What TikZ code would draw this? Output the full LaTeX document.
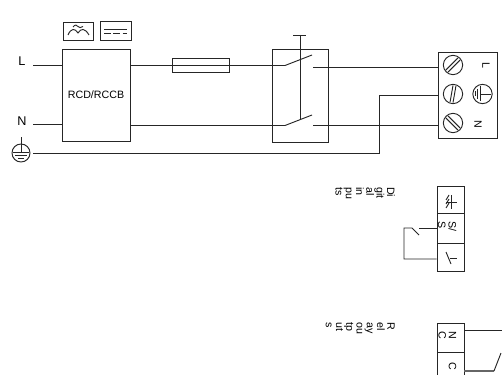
\documentclass[tikz,border=0pt]{standalone}
\usepackage{fontspec}
\setmainfont{Liberation Sans}
\newcommand{\drawScrew}[4]{
    \node[screwhead] (#1) at (#2,#3) {};
    \draw[wire,rotate around={#4:(#2,#3)}] (#2-8.5,#3+1.5) -- (#2+8.5,#3+1.5) (#2-8.5,#3-1.5) -- (#2+8.5,#3-1.5)
}
\tikzset{
    wire/.style={line width=0.7pt,draw=black!85},
    box/.style={wire,rectangle,inner sep=0pt,minimum width=0.75*#1},
    boxheight/.style={minimum height=0.75*#1},
    screwhead/.style={wire,circle,inner sep=0pt,minimum size=14.5},
    sidetext/.style={rotate=-90,anchor=north west,align=left,inner sep=0pt,font=\fontsize{8}{7.7}\selectfont}
}

\begin{document}
\begin{tikzpicture}[x=0.75pt,y=-0.75pt]
            \useasboundingbox (0,0) rectangle (502,374);
            \clip (0,0) rectangle (502,374);

            % supply side
            \node[font=\fontsize{9.5}{11}\selectfont,inner sep=0pt] (labelL) at (22,61) {L};
            \node[font=\fontsize{9.5}{11}\selectfont,inner sep=0pt] (labelN) at (22,121) {N};
            \node[box=68,boxheight=92,font=\fontsize{8}{10}\selectfont] (rcd) at (96,95) {RCD/RCCB};
            \node[box=30,boxheight=18] (iconac) at (78,31) {};
            \node[box=31,boxheight=19] (icondc) at (115.5,30.5) {};
            \draw[wire] (68,35) .. controls (71,28) and (75,28) .. (78,33) .. controls (81,28) and (85,28) .. (89,35);
            \draw[wire] (73,27) .. controls (75,24.5) and (77,24.5) .. (78,26.5) .. controls (79,28) and (81,28) .. (83,26.5);
            \draw[wire] (104,29.3) -- (127,29.3);
            \draw[wire,dash pattern=on 5pt off 2pt] (104,33) -- (127,33);

            \coordinate (startL) at (33,65.5);
            \coordinate (startN) at (33,124.5);
            \coordinate (startPE) at (33,153);
            \draw[wire] (startL) -- (startL-|rcd.west);
            \draw[wire] (startN) -- (startN-|rcd.west);

            % earth symbol
            \node[wire,circle,inner sep=0pt,minimum size=13.5] (earth) at (21,153) {};
            \draw[wire] (21,137) -- (21,152.5);
            \draw[wire] (13,152.5) -- (29,152.5);
            \draw[wire] (15,155.5) -- (27,155.5);
            \draw[wire] (18,158.5) -- (24,158.5);

            % fuse and switch
            \node[box=57,boxheight=14.5] (fuse) at (200.5,65.5) {};
            \node[box=56,boxheight=93] (switch) at (300,95.5) {};
            \coordinate (bladeL) at (285,65.5);
            \coordinate (bladeN) at (285,125.5);
            \coordinate (contactL) at (313,67);
            \coordinate (contactN) at (313,125.5);
            \coordinate (bendPE) at (379,153);
            \coordinate (risePE) at (379,95);
            \draw[wire] (bladeL-|rcd.east) -- (fuse.west) -- (fuse.east) -- (bladeL) -- (312,55);
            \draw[wire] (bladeN-|rcd.east) -- (bladeN) -- (312,115);
            \draw[wire] (300,35) -- (300,119);
            \draw[wire] (293,35) -- (306,35);

            % terminal block
            \node[box=59,boxheight=86] (terminal) at (467.5,95) {};
            \draw[wire] (contactL) -- (contactL-|terminal.west);
            \draw[wire] (contactN) -- (contactN-|terminal.west);
            \draw[wire] (startPE) -- (bendPE) -- (risePE) -- (risePE-|terminal.west);

            \drawScrew{screwL}{453}{65}{45};
            \drawScrew{screwPE}{453}{94}{80};
            \drawScrew{screwN}{453}{123}{-45};
            \node[screwhead] (earthterm) at (482.5,94) {};
            \draw[wire] (491,94) -- (480,94);
            \draw[wire] (480,86.5) -- (480,101.5);
            \draw[wire] (477.5,89) -- (477.5,99);
            \draw[wire] (475,91.5) -- (475,96.5);
            \node[rotate=-90,inner sep=0pt,font=\fontsize{8}{10}\selectfont] (termL) at (486,65) {L};
            \node[rotate=-90,inner sep=0pt,font=\fontsize{8}{10}\selectfont] (termN) at (478,124) {N};

            % digital inputs
            \node[sidetext] (digitaltext) at (395,187) {Di\\git\\al\\in\\pu\\ts};
            \node[box=27,boxheight=27] (digitaltop) at (450.5,199.5) {};
            \node[box=27,boxheight=30] (digitalmid) at (450.5,228) {};
            \node[box=27,boxheight=28] (digitallow) at (450.5,257) {};
            \node[sidetext] (digitalss) at (456.5,221) {S/\\S};
            \draw[wire] (446,202) -- (457,202);
            \draw[wire] (451,195) -- (451,209);
            \draw[wire] (446,200) -- (449,195) (446,204) -- (449,199) (446,208) -- (449,203);
            \draw[wire] (446,252) -- (451,264);
            \draw[wire] (450,258) -- (457,258);
            \coordinate (contactD) at (419,228);
            \coordinate (cornerD) at (404,259);
            \draw[wire] (contactD-|digitalmid.west) -- (contactD);
            \draw[wire] (419,235) -- (412,228) -- (404,228) -- (cornerD) -- (cornerD-|digitallow.west);

            % relay outputs
            \node[sidetext] (relaytext) at (395,322) {R\\el\\ay\\ou\\tp\\ut\\s};
            \node[box=27,boxheight=29] (relaytop) at (450.5,337.5) {};
            \node[box=27,boxheight=30] (relaylow) at (450.5,367) {};
            \node[sidetext] (relaync) at (456.5,331) {N\\C};
            \node[sidetext] (relayc) at (456.5,362) {C};
            \coordinate (endNC) at (502,330);
            \coordinate (bladeC) at (494,371);
            \draw[wire] (endNC-|relaytop.east) -- (endNC);
            \draw[line width=1.2pt,draw=black!60] (bladeC-|relaylow.east) -- (bladeC);
            \draw[wire] (bladeC) -- (501,353);
\end{tikzpicture}
\end{document}
